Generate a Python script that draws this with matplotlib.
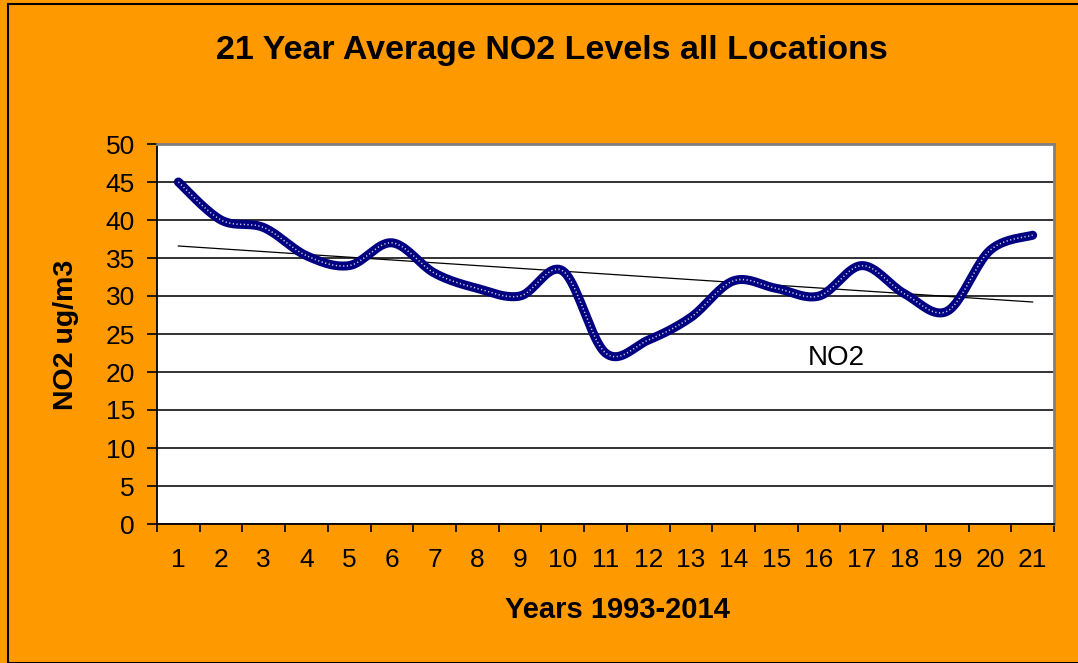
import numpy as np
import matplotlib
matplotlib.use('Agg')
import matplotlib.pyplot as plt
from matplotlib.patches import Rectangle

plt.rcParams['font.family'] = ['Liberation Sans', 'DejaVu Sans']

years = list(range(1, 22))
no2 = [45, 40, 39, 35.3, 34, 37, 33, 31, 30, 33.3, 22.5,
       24.2, 27.2, 32, 31, 30, 34, 30.3, 28, 36, 38]
title = '21 Year Average NO2 Levels all Locations'
ylabel = 'NO2 ug/m3'
xlabel = 'Years 1993-2014'
series_name = 'NO2'


def smooth(x, y, n=20):
    # catmull-rom style smoothing, like the spreadsheet "smoothed line"
    x = np.asarray(x, float)
    y = np.asarray(y, float)
    px = np.concatenate([[x[0]], x, [x[-1]]])
    py = np.concatenate([[y[0]], y, [y[-1]]])
    xs, ys = [], []
    t = np.linspace(0, 1, n, endpoint=False)
    for i in range(1, len(px) - 2):
        for p, out in ((px, xs), (py, ys)):
            p0, p1, p2, p3 = p[i - 1], p[i], p[i + 1], p[i + 2]
            out.extend(0.5 * ((2 * p1) + (-p0 + p2) * t
                              + (2 * p0 - 5 * p1 + 4 * p2 - p3) * t ** 2
                              + (-p0 + 3 * p1 - 3 * p2 + p3) * t ** 3))
    xs.append(x[-1])
    ys.append(y[-1])
    return np.array(xs), np.array(ys)


orange = '#FF9900'
fig = plt.figure(figsize=(10.78, 6.63), dpi=100, facecolor=orange)
fig.patches.append(Rectangle((8 / 1078, 0), 1.0, 1 - 4 / 663, transform=fig.transFigure,
                             facecolor='none', edgecolor='black', lw=1.5))

ax = fig.add_axes([157 / 1078, 1 - 524 / 663, 897 / 1078, 380 / 663])
ax.set_facecolor('white')

ax.set_xlim(0.5, 21.5)
ax.set_ylim(0, 50)
ax.set_yticks(range(0, 51, 5))
ax.yaxis.grid(True, color='#222222', lw=1.3)
ax.set_axisbelow(True)

# trend line
k, b = np.polyfit(years, no2, 1)
xt = np.array([years[0], years[-1]])
ax.plot(xt, k * xt + b, color='black', lw=0.9, zorder=3)

sx, sy = smooth(years, no2)
ax.plot(sx, sy, color='#000080', lw=6.5, solid_capstyle='round', zorder=4)
ax.plot(sx, sy, color='white', lw=1.1, linestyle=(0, (0.8, 1.6)), alpha=0.8, zorder=5)

ax.text(16.4, 21.8, series_name, fontsize=20, ha='center', va='center')

ax.set_xticks(years)
ax.set_xticklabels([str(y) for y in years])
ax.set_xticks(np.arange(0.5, 22, 1), minor=True)
ax.tick_params(axis='x', which='major', length=0, labelsize=19, pad=17)
ax.tick_params(axis='x', which='minor', length=6, width=1.2, color='black')
ax.tick_params(axis='y', length=7, width=1.2, labelsize=19, pad=9)

for s in ('top', 'right'):
    ax.spines[s].set_color('#808080')
    ax.spines[s].set_linewidth(2)
for s in ('left', 'bottom'):
    ax.spines[s].set_color('black')
    ax.spines[s].set_linewidth(1.3)

fig.text(552 / 1078, 1 - 50 / 663, title, fontsize=24.5, fontweight='bold',
         ha='center', va='center')
fig.text(617 / 1078, 1 - 610 / 663, xlabel, fontsize=21, fontweight='bold',
         ha='center', va='center')
fig.text(66 / 1078, 1 - 335 / 663, ylabel, fontsize=20.5, fontweight='bold',
         ha='center', va='center', rotation=90)

fig.savefig('out.png', dpi=100, facecolor=orange)
